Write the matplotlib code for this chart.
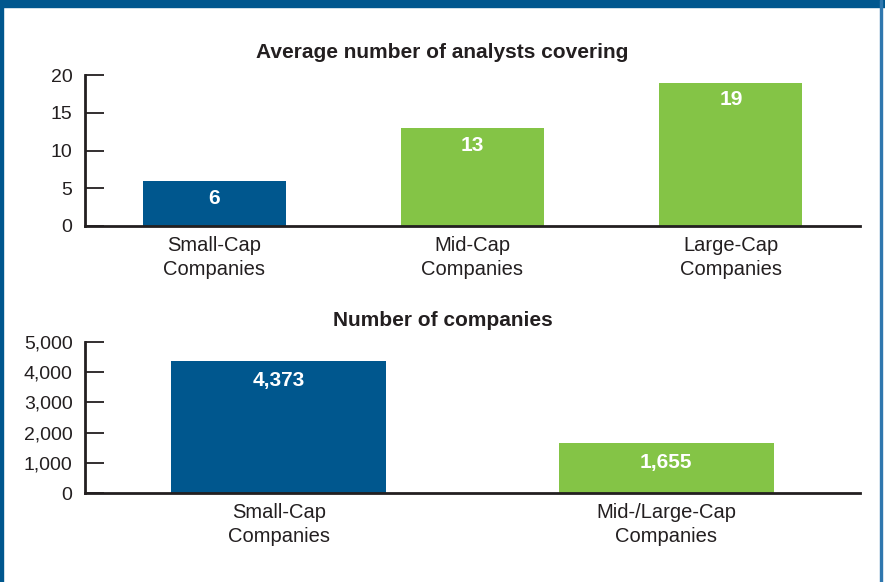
import matplotlib
matplotlib.use("Agg")
import matplotlib.pyplot as plt
from matplotlib.patches import Rectangle
from matplotlib.ticker import FuncFormatter

plt.rcParams['font.family'] = ['Liberation Sans', 'DejaVu Sans']

# data
analyst_cats = ["Small-Cap\nCompanies", "Mid-Cap\nCompanies", "Large-Cap\nCompanies"]
analyst_vals = [6, 13, 19]
analyst_colors = ["#00578E", "#84C446", "#84C446"]
analyst_ticks = [0, 5, 10, 15, 20]

company_cats = ["Small-Cap\nCompanies", "Mid-/Large-Cap\nCompanies"]
company_vals = [4373, 1655]
company_colors = ["#00578E", "#84C446"]
company_ticks = [0, 1000, 2000, 3000, 4000, 5000]

BLUE = "#00578E"
INK = "#231F20"

fig = plt.figure(figsize=(8.85, 5.82), dpi=100)

# frame: thick band on top, thin lines at the sides
fig.patches.append(Rectangle((0, 1 - 7 / 582), 1, 7 / 582, transform=fig.transFigure,
                             color=BLUE, zorder=0))
fig.patches.append(Rectangle((0, 0), 2.5 / 885, 1, transform=fig.transFigure,
                             color=BLUE, zorder=0))
fig.patches.append(Rectangle((879.5 / 885, 0), 2 / 885, 1, transform=fig.transFigure,
                             color="#2F77AE", zorder=0))


def style_axes(ax, ticks, fmt):
    for s in ("top", "right"):
        ax.spines[s].set_visible(False)
    for s in ("left", "bottom"):
        ax.spines[s].set_linewidth(2)
        ax.spines[s].set_color(INK)
    ax.set_yticks(ticks)
    ax.yaxis.set_major_formatter(FuncFormatter(fmt))
    ax.tick_params(axis="y", direction="in", length=14, width=1.3, color=INK,
                   labelsize=14, pad=9, labelcolor=INK)
    ax.tick_params(axis="x", length=0, labelsize=14.5, pad=7, labelcolor=INK)
    for lbl in ax.get_xticklabels():
        lbl.set_linespacing(1.38)


# top chart
ax1 = fig.add_axes([85 / 885, 1 - 226 / 582, 775 / 885, 151 / 582])
x1 = range(len(analyst_vals))
bars1 = ax1.bar(x1, analyst_vals, width=0.554, color=analyst_colors, zorder=1)
ax1.set_xlim(-0.5, 2.5)
ax1.set_ylim(0, 20)
ax1.set_xticks(list(x1))
ax1.set_xticklabels(analyst_cats)
style_axes(ax1, analyst_ticks, lambda v, p: f"{int(v)}")
for b, v in zip(bars1, analyst_vals):
    ax1.annotate(f"{v}", (b.get_x() + b.get_width() / 2, v), xytext=(0, -12.5),
                 textcoords="offset points", ha="center", va="center",
                 color="white", fontsize=15, fontweight="bold")
fig.text(0.5, 1 - 53 / 582, "Average number of analysts covering", ha="center",
         va="center", fontsize=15, fontweight="bold", color=INK)

# bottom chart
ax2 = fig.add_axes([85 / 885, 1 - 493 / 582, 775 / 885, 151 / 582])
x2 = range(len(company_vals))
bars2 = ax2.bar(x2, company_vals, width=0.554, color=company_colors, zorder=1)
ax2.set_xlim(-0.5, 1.5)
ax2.set_ylim(0, 5000)
ax2.set_xticks(list(x2))
ax2.set_xticklabels(company_cats)
style_axes(ax2, company_ticks, lambda v, p: f"{int(v):,}")
for b, v in zip(bars2, company_vals):
    ax2.annotate(f"{v:,}", (b.get_x() + b.get_width() / 2, v), xytext=(0, -14),
                 textcoords="offset points", ha="center", va="center",
                 color="white", fontsize=15, fontweight="bold")
fig.text(0.5, 1 - 321 / 582, "Number of companies", ha="center",
         va="center", fontsize=15, fontweight="bold", color=INK)

fig.savefig("out.png", dpi=100)
